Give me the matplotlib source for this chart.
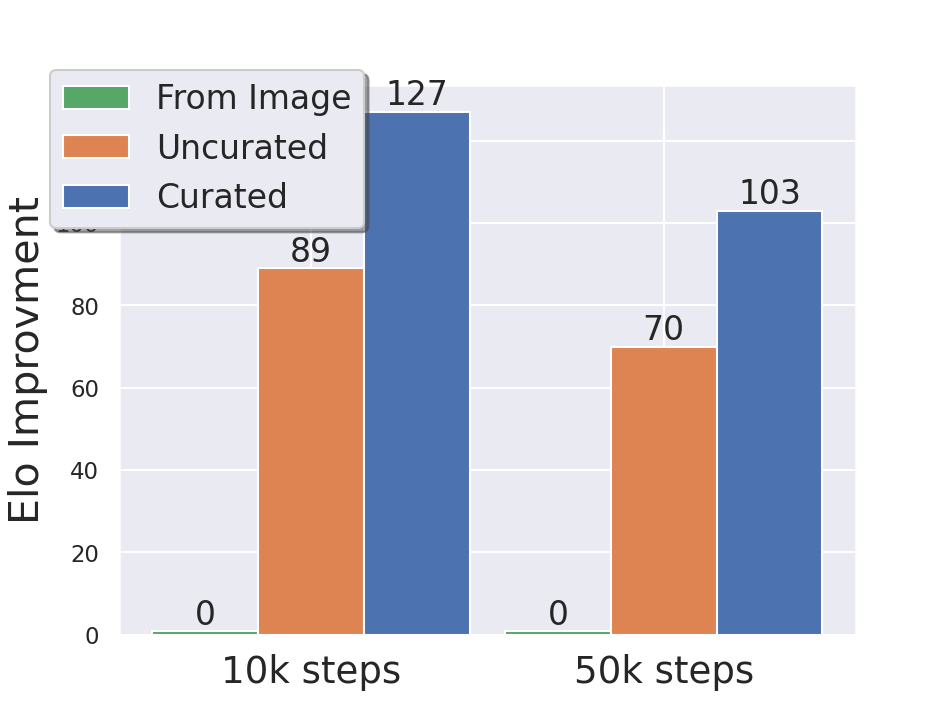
import numpy as np
import matplotlib
matplotlib.use("Agg")
import matplotlib.pyplot as plt
import seaborn as sns

sns.set_theme(style="darkgrid")
plt.rcParams['font.family'] = ['DejaVu Sans']

categories = ["10k steps", "50k steps"]
series_names = ["From Image", "Uncurated", "Curated"]
from_image = [0, 0]
uncurated = [89, 70]
curated = [127, 103]
colors = ["#55A868", "#DD8452", "#4C72B0"]

fig, ax = plt.subplots(figsize=(6.4, 4.8), dpi=148.6)
x = np.arange(len(categories))
width = 0.3
all_series = [from_image, uncurated, curated]
for i, (name, vals, c) in enumerate(zip(series_names, all_series, colors)):
    shown = np.maximum(np.array(vals, dtype=float), 0.8)
    bars = ax.bar(x + (i - 1) * width, shown, width, label=name, color=c,
                  edgecolor="white", linewidth=1)
    ax.bar_label(bars, labels=[str(v) for v in vals], fontsize=16, padding=0)

ax.set_xticks(x)
ax.set_xticklabels(categories, fontsize=18)
ax.set_yticks(np.arange(0, 121, 20))
ax.tick_params(axis='y', labelsize=11)
ax.set_ylabel("Elo Improvment", fontsize=20)
ax.set_ylim(0, 133.5)

ax.legend(loc="upper left", bbox_to_anchor=(50 / 951, 1 - 70 / 713),
          bbox_transform=fig.transFigure, borderaxespad=0, fontsize=16,
          shadow=True, frameon=True, handlelength=2.0)

fig.savefig("out.png", dpi=148.6)
